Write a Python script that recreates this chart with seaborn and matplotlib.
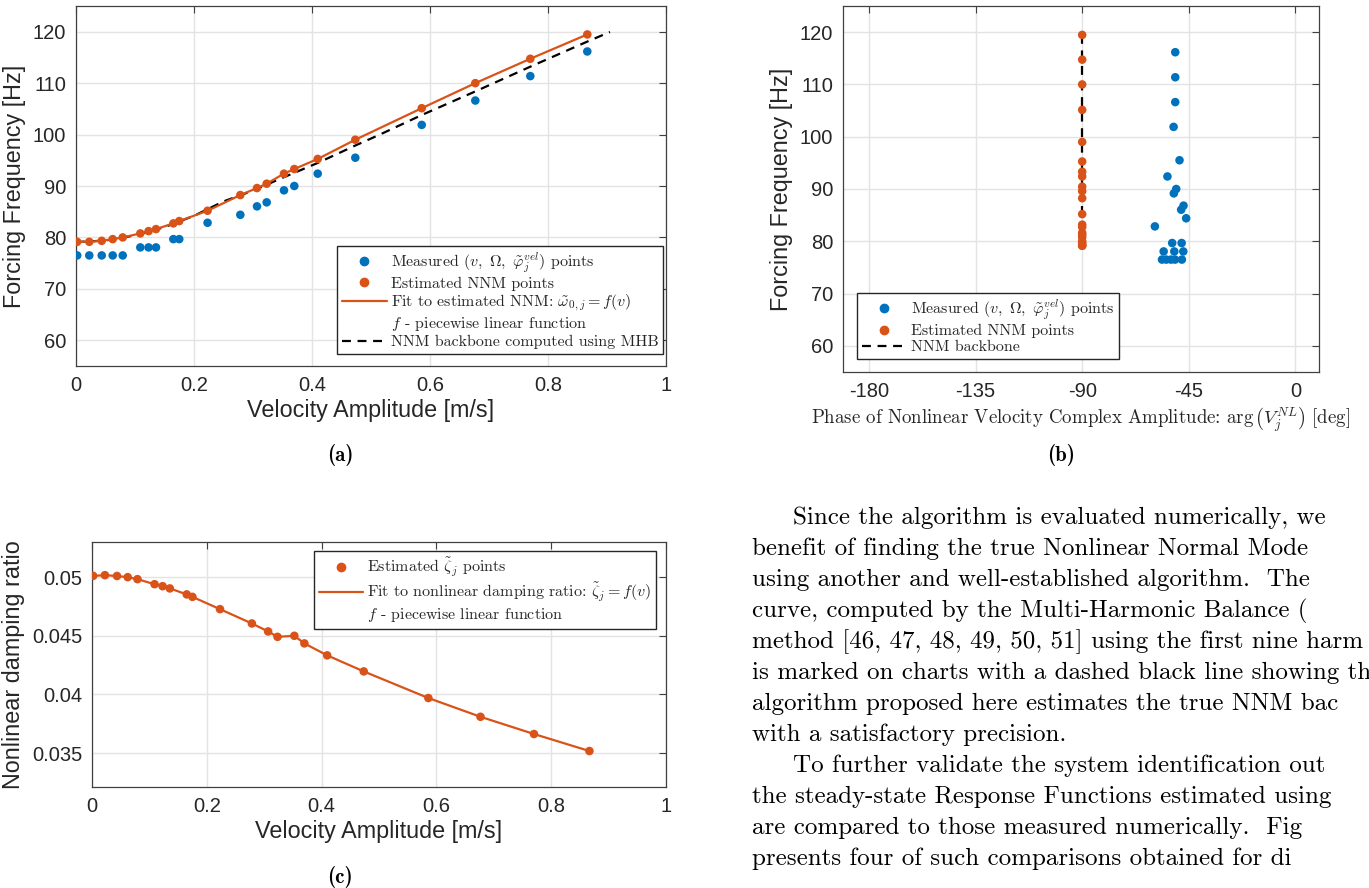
import numpy as np
import pandas as pd
import matplotlib
matplotlib.use("Agg")
import matplotlib.pyplot as plt
from matplotlib.lines import Line2D
import seaborn as sns

# ---------------- data ----------------
velocity = [0.002, 0.0225, 0.0436, 0.0622, 0.0792, 0.109, 0.123, 0.1356, 0.165, 0.175,
            0.223, 0.2785, 0.3068, 0.3232, 0.3525, 0.370, 0.4097, 0.4734, 0.586, 0.6768,
            0.770, 0.8666]
freq_measured = [76.5, 76.5, 76.5, 76.5, 76.5, 78.06, 78.06, 78.06, 79.67, 79.67,
                 82.85, 84.4, 86.04, 86.82, 89.16, 90.0, 92.4, 95.5, 101.88, 106.62,
                 111.37, 116.16]
freq_nnm = [79.15, 79.15, 79.34, 79.67, 80.0, 80.78, 81.23, 81.62, 82.73, 83.18,
            85.19, 88.24, 89.6, 90.45, 92.4, 93.3, 95.26, 99.0, 105.13, 110.0,
            114.74, 119.47]
phase_measured = [-56.3, -54.5, -52.5, -50.8, -47.9, -55.6, -51.1, -47.3, -52.0, -48.0,
                  -59.3, -46.1, -48.2, -47.2, -51.3, -50.3, -54.0, -48.9, -51.4, -50.7,
                  -50.7, -50.7]
phase_nnm = [-90.0] * 22
zeta = [0.05011, 0.05017, 0.0501, 0.0500, 0.04983, 0.0494, 0.04923, 0.04904, 0.04853, 0.04832,
        0.04727, 0.04605, 0.04537, 0.04491, 0.0450, 0.04435, 0.04333, 0.04196, 0.03969, 0.03809,
        0.03662, 0.03517]
backbone_v = [0, 0.05, 0.1, 0.15, 0.2, 0.25, 0.3, 0.35, 0.41, 0.473, 0.515, 0.586, 0.677,
              0.77, 0.867, 0.905]
backbone_f = [79.1, 79.4, 80.4, 82.0, 84.2, 87.0, 89.1, 91.6, 94.5, 97.85, 100.0, 103.8,
              108.4, 113.2, 118.1, 119.95]
backbone_phase = [-90.0] * 16

paragraph = [
    "Since the algorithm is evaluated numerically, we",
    "benefit of finding the true Nonlinear Normal Mode",
    "using another and well-established algorithm.  The",
    "curve, computed by the Multi-Harmonic Balance (",
    "method [46, 47, 48, 49, 50, 51] using the first nine harm",
    "is marked on charts with a dashed black line showing th",
    "algorithm proposed here estimates the true NNM bac",
    "with a satisfactory precision.",
    "To further validate the system identification out",
    "the steady-state Response Functions estimated using",
    "are compared to those measured numerically.  Fig",
    "presents four of such comparisons obtained for di",
]
indented = [0, 8]

# ---------------- style ----------------
sns.set_style("whitegrid")
plt.rcParams["font.family"] = ["Liberation Sans", "DejaVu Sans"]
plt.rcParams["mathtext.fontset"] = "cm"
plt.rcParams["axes.unicode_minus"] = False

BLUE = "#0072BD"
ORANGE = "#D95319"
SPINE = "#404040"
GRID = "#e3e3e3"
TXT = "#262626"

W, H = 1369, 888
fig = plt.figure(figsize=(W / 100, H / 100), dpi=100)


def fr(left, top, right, bottom):
    return [left / W, 1 - bottom / H, (right - left) / W, (bottom - top) / H]


def style_axes(ax):
    ax.set_facecolor("white")
    for s in ax.spines.values():
        s.set_color(SPINE)
        s.set_linewidth(0.9)
        s.set_visible(True)
    ax.grid(True, color=GRID, linewidth=1.0)
    ax.tick_params(direction="in", top=True, right=True, length=5, width=0.8,
                   colors=SPINE, labelcolor=TXT, labelsize=14.5, pad=7)
    ax.set_axisbelow(True)


leg_kw = dict(frameon=True, fancybox=False, framealpha=1, edgecolor=TXT,
              prop={"family": "cmr10", "size": 11.5}, handlelength=2.8,
              handletextpad=0.25, labelspacing=0.12, borderpad=0.3, borderaxespad=0)

LABEL_FS = 16.8

# ---------------- (a) ----------------
axa = fig.add_axes(fr(76, 6, 666, 366))
style_axes(axa)
sns.lineplot(x=backbone_v, y=backbone_f, ax=axa, color="black", linewidth=1.6,
             linestyle=(0, (4, 3)), estimator=None, sort=False, zorder=2)
sns.lineplot(x=velocity, y=freq_nnm, ax=axa, color=ORANGE, linewidth=1.6,
             estimator=None, sort=False, zorder=3)
sns.scatterplot(x=velocity, y=freq_measured, ax=axa, color=BLUE, s=38,
                edgecolor="none", zorder=4)
sns.scatterplot(x=velocity, y=freq_nnm, ax=axa, color=ORANGE, s=38,
                edgecolor="none", zorder=5)
axa.set_xlim(0, 1)
axa.set_ylim(55, 125)
axa.set_xticks([0, 0.2, 0.4, 0.6, 0.8, 1])
axa.set_xticklabels(["0", "0.2", "0.4", "0.6", "0.8", "1"])
axa.set_yticks([60, 70, 80, 90, 100, 110, 120])
axa.set_xlabel("Velocity Amplitude [m/s]", fontsize=LABEL_FS, color=TXT, labelpad=3)
axa.set_ylabel("Forcing Frequency [Hz]", fontsize=LABEL_FS, color=TXT, labelpad=5)
ha = [Line2D([], [], ls="none", marker="o", ms=6, color=BLUE),
      Line2D([], [], ls="none", marker="o", ms=6, color=ORANGE),
      Line2D([], [], color=ORANGE, lw=1.6),
      Line2D([], [], ls="none"),
      Line2D([], [], color="black", lw=1.6, ls=(0, (4, 3)))]
la = [r"Measured $(v,\ \Omega,\ \tilde{\varphi}_j^{vel})$ points",
      "Estimated NNM points",
      r"Fit to estimated NNM: $\tilde{\omega}_{0,j}=f(v)$",
      r"$f$ - piecewise linear function",
      "NNM backbone computed using MHB"]
axa.legend(ha, la, loc="lower right", bbox_to_anchor=(663 / W, 1 - 354 / H),
           bbox_transform=fig.transFigure, **leg_kw)

# ---------------- (b) ----------------
axb = fig.add_axes(fr(843, 6, 1319, 372))
style_axes(axb)
sns.lineplot(x=backbone_phase, y=backbone_f, ax=axb, color="black", linewidth=1.6,
             linestyle=(0, (4, 3)), estimator=None, sort=False, zorder=2)
sns.scatterplot(x=phase_measured, y=freq_measured, ax=axb, color=BLUE, s=38,
                edgecolor="none", zorder=4)
sns.scatterplot(x=phase_nnm, y=freq_nnm, ax=axb, color=ORANGE, s=38,
                edgecolor="none", zorder=5)
axb.set_xlim(-191, 10)
axb.set_ylim(55, 125)
axb.set_xticks([-180, -135, -90, -45, 0])
axb.set_xticklabels(["-180", "-135", "-90", "-45", "0"])
axb.set_yticks([60, 70, 80, 90, 100, 110, 120])
axb.set_xlabel(r"Phase of Nonlinear Velocity Complex Amplitude: arg$\,\left(V_j^{NL}\right)$ [deg]",
               fontsize=13.6, color=TXT, fontfamily="cmr10", labelpad=3)
axb.set_ylabel("Forcing Frequency [Hz]", fontsize=LABEL_FS, color=TXT, labelpad=5)
hb = [Line2D([], [], ls="none", marker="o", ms=6, color=BLUE),
      Line2D([], [], ls="none", marker="o", ms=6, color=ORANGE),
      Line2D([], [], color="black", lw=1.6, ls=(0, (4, 3)))]
lb = [r"Measured $(v,\ \Omega,\ \tilde{\varphi}_j^{vel})$ points",
      "Estimated NNM points",
      "NNM backbone"]
axb.legend(hb, lb, loc="lower left", bbox_to_anchor=(857 / W, 1 - 359 / H),
           bbox_transform=fig.transFigure, **leg_kw)

# ---------------- (c) ----------------
axc = fig.add_axes(fr(92, 542, 666, 787))
style_axes(axc)
sns.lineplot(x=velocity, y=zeta, ax=axc, color=ORANGE, linewidth=1.6,
             estimator=None, sort=False, zorder=3)
sns.scatterplot(x=velocity, y=zeta, ax=axc, color=ORANGE, s=38,
                edgecolor="none", zorder=5)
axc.set_xlim(0, 1)
axc.set_ylim(0.0321, 0.053)
axc.set_xticks([0, 0.2, 0.4, 0.6, 0.8, 1])
axc.set_xticklabels(["0", "0.2", "0.4", "0.6", "0.8", "1"])
axc.set_yticks([0.035, 0.04, 0.045, 0.05])
axc.set_yticklabels(["0.035", "0.04", "0.045", "0.05"])
axc.set_xlabel("Velocity Amplitude [m/s]", fontsize=LABEL_FS, color=TXT, labelpad=3)
axc.set_ylabel("Nonlinear damping ratio", fontsize=LABEL_FS, color=TXT, labelpad=5)
hc = [Line2D([], [], ls="none", marker="o", ms=6, color=ORANGE),
      Line2D([], [], color=ORANGE, lw=1.6),
      Line2D([], [], ls="none")]
lc = [r"Estimated $\tilde{\zeta}_j$ points",
      r"Fit to nonlinear damping ratio: $\tilde{\zeta}_j=f(v)$",
      r"$f$ - piecewise linear function"]
axc.legend(hc, lc, loc="upper right", bbox_to_anchor=(656 / W, 1 - 551 / H),
           bbox_transform=fig.transFigure, **leg_kw)

# ---------------- captions ----------------
for txt, x, y in [("(a)", 340, 455), ("(b)", 1061, 455), ("(c)", 340, 877)]:
    fig.text(x / W, 1 - y / H, txt, fontfamily="cmb10", fontsize=15,
             ha="center", va="center", color="black")

# ---------------- paragraph ----------------
for i, line in enumerate(paragraph):
    x = 793 if i in indented else 752
    y = 518 + 31 * i
    fig.text(x / W, 1 - y / H, line, fontfamily="cmr10", fontsize=18,
             ha="left", va="center", color="black")

fig.savefig("out.png", dpi=100)
